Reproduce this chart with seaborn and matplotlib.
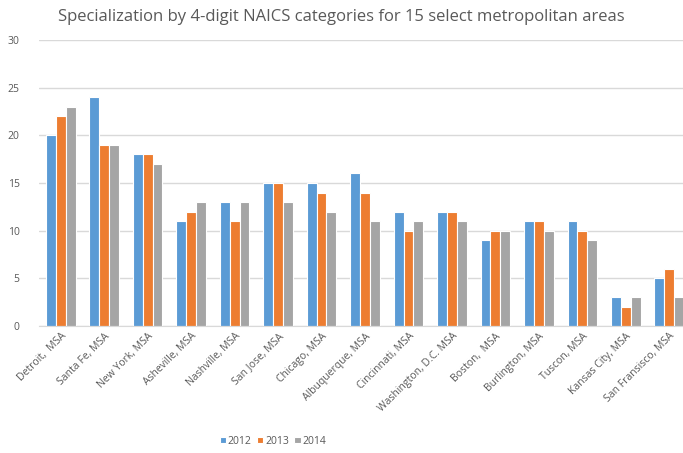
import pandas as pd
import numpy as np
import seaborn as sns
import matplotlib.pyplot as plt

areas = ["Detroit,  MSA", "Santa Fe, MSA", "New York, MSA", "Asheville, MSA",
         "Nashville, MSA", "San Jose, MSA", "Chicago, MSA", "Albuquerque, MSA",
         "Cincinnati, MSA", "Washington, D.C. MSA", "Boston,  MSA",
         "Burlington, MSA", "Tuscon, MSA", "Kansas City, MSA", "San Fransisco, MSA"]
years = ["2012", "2013", "2014"]
v2012 = [20, 24, 18, 11, 13, 15, 15, 16, 12, 12, 9, 11, 11, 3, 5]
v2013 = [22, 19, 18, 12, 11, 15, 14, 14, 10, 12, 10, 11, 10, 2, 6]
v2014 = [23, 19, 17, 13, 13, 13, 12, 11, 11, 11, 10, 10, 9, 3, 3]
colors = ["#5B9BD5", "#ED7D31", "#A5A5A5"]

data = pd.DataFrame({
    "Area": areas * 3,
    "Year": np.repeat(years, len(areas)),
    "Value": v2012 + v2013 + v2014,
})

sns.set_style("white")
plt.rcParams['font.family'] = ['Open Sans', 'DejaVu Sans']

fig = plt.figure(figsize=(6.83, 4.53), dpi=100)
ax = fig.add_axes([39 / 683, 1 - 326 / 453, 652 / 683, 286 / 453])

sns.barplot(data=data, x="Area", y="Value", hue="Year", palette=colors,
            saturation=1, width=0.68, edgecolor="white", linewidth=0.8, ax=ax)

ax.set_ylim(0, 30)
ax.set_yticks(range(0, 31, 5))
ax.set_xlim(-0.5, len(areas) - 0.5)
ax.yaxis.grid(True, color="#D9D9D9", linewidth=1)
ax.set_axisbelow(True)
for s in ["top", "right", "left"]:
    ax.spines[s].set_visible(False)
ax.spines["bottom"].set_color("#D9D9D9")
ax.set_xlabel("")
ax.set_ylabel("")
ax.tick_params(axis="both", length=0, colors="#595959", labelsize=7.5)
ax.tick_params(axis="y", pad=14)
plt.setp(ax.get_xticklabels(), rotation=45, ha="right", rotation_mode="anchor")

fig.suptitle("Specialization by 4-digit NAICS categories for 15 select metropolitan areas",
             y=0.98, fontsize=12, color="#595959")

ax.legend(loc="center", bbox_to_anchor=(273 / 683, 1 - 441 / 453),
          bbox_transform=fig.transFigure, ncol=3, frameon=False,
          fontsize=7.5, handlelength=0.6, handleheight=0.6, columnspacing=0.5,
          handletextpad=0.2, labelcolor="#595959")

fig.savefig("out.png", dpi=100)
